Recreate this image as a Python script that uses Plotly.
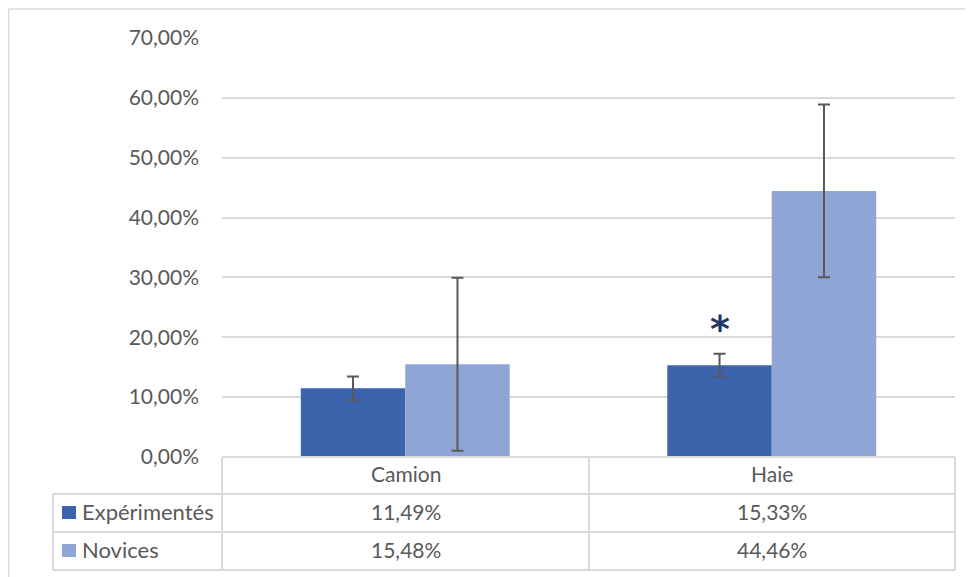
import plotly.graph_objects as go

categories = ["Camion", "Haie"]
series_names = ["Expérimentés", "Novices"]
experimentes = [0.1149, 0.1533]
novices = [0.1548, 0.4446]
err_experimentes = [0.0195, 0.019]
err_novices = [0.1445, 0.1445]
significance_exp = ["", "*"]
significance_y = [None, 0.224]
y_ticks = [0, 0.1, 0.2, 0.3, 0.4, 0.5, 0.6, 0.7]

colors = ["#3B64AD", "#8FA5D5"]
grid = "#D9D9D9"
txt = "#595959"
FONT = "Lato"
FS = 21

OFF = 8  # page body margin
W, H = 973 - OFF, 577 - OFF
# screen-space plot area: x 222..955, y 38..457
L, R, T, B = 222 - OFF, 973 - 955, 38 - OFF, 577 - 457
pw, ph = W - L - R, H - T - B


def px(x):
    return (x - OFF - L) / pw


def py(y):
    return (H - B - (y - OFF)) / ph


def fmt(v):
    return f"{v*100:.2f}%".replace(".", ",")


fig = go.Figure()
for name, vals, errs, col in [
    (series_names[0], experimentes, err_experimentes, colors[0]),
    (series_names[1], novices, err_novices, colors[1]),
]:
    fig.add_trace(go.Bar(
        x=categories, y=vals, name=name,
        marker=dict(color=col, line=dict(width=0)),
        error_y=dict(type="data", array=errs, visible=True,
                     color=txt, thickness=2, width=6),
        showlegend=False,
    ))

shapes = []
annotations = []

# outer chart border (left and top)
shapes.append(dict(type="line", xref="paper", yref="paper",
                   x0=px(8.5), x1=px(990), y0=py(9), y1=py(9),
                   line=dict(color=grid, width=1.5)))
shapes.append(dict(type="line", xref="paper", yref="paper",
                   x0=px(8.5), x1=px(8.5), y0=py(9), y1=py(600),
                   line=dict(color=grid, width=1.5)))

# data table
row_lines = [457, 494, 532, 570]
x_left, x_cat0, x_mid, x_right = 53, 222, 589, 955
shapes.append(dict(type="line", xref="paper", yref="paper",
                   x0=px(x_cat0), x1=px(x_right), y0=py(457), y1=py(457),
                   line=dict(color=grid, width=2)))
for yy in row_lines[1:]:
    shapes.append(dict(type="line", xref="paper", yref="paper",
                       x0=px(x_left), x1=px(x_right), y0=py(yy), y1=py(yy),
                       line=dict(color=grid, width=2)))
for xx in [x_cat0, x_mid, x_right]:
    shapes.append(dict(type="line", xref="paper", yref="paper",
                       x0=px(xx), x1=px(xx), y0=py(457), y1=py(570),
                       line=dict(color=grid, width=2)))
shapes.append(dict(type="line", xref="paper", yref="paper",
                   x0=px(x_left), x1=px(x_left), y0=py(494), y1=py(570),
                   line=dict(color=grid, width=2)))

col_centers = [(x_cat0 + x_mid) / 2, (x_mid + x_right) / 2]
row_centers = [(row_lines[i] + row_lines[i + 1]) / 2 - 2 for i in range(3)]

for c, cat in enumerate(categories):
    annotations.append(dict(xref="paper", yref="paper", x=px(col_centers[c]),
                            y=py(row_centers[0]), text=cat, showarrow=False,
                            xanchor="center", yanchor="middle",
                            font=dict(family=FONT, size=FS, color=txt)))
for r, (name, vals) in enumerate([(series_names[0], experimentes),
                                  (series_names[1], novices)]):
    yc = row_centers[r + 1]
    shapes.append(dict(type="rect", xref="paper", yref="paper",
                       x0=px(62), x1=px(76), y0=py(yc - 5), y1=py(yc + 8),
                       fillcolor=colors[r], line=dict(width=0)))
    annotations.append(dict(xref="paper", yref="paper", x=px(80), y=py(yc),
                            text=name, showarrow=False, xanchor="left",
                            yanchor="middle",
                            font=dict(family=FONT, size=FS + 1, color=txt)))
    for c, v in enumerate(vals):
        annotations.append(dict(xref="paper", yref="paper", x=px(col_centers[c]),
                                y=py(yc), text=fmt(v), showarrow=False,
                                xanchor="center", yanchor="middle",
                                font=dict(family=FONT, size=FS, color=txt)))

# significance marker over Expérimentés bars
bargap = 0.43
offset = (1 - bargap) / 4
for i, s in enumerate(significance_exp):
    if s:
        annotations.append(dict(xref="x", yref="y", x=i - offset,
                                y=significance_y[i], text=f"<b>{s}</b>",
                                showarrow=False, yanchor="middle", yshift=-6,
                                font=dict(family="DejaVu Sans", size=38,
                                          color="#203864")))

fig.update_layout(
    width=W, height=H,
    margin=dict(l=L, r=R, t=T, b=B, pad=0),
    paper_bgcolor="white", plot_bgcolor="white",
    barmode="group", bargap=bargap, bargroupgap=0,
    separators=", ",
    font=dict(family=FONT, size=FS, color=txt),
    xaxis=dict(range=[-0.5, 1.5], showticklabels=False, showgrid=False,
               zeroline=False, showline=False, fixedrange=True),
    yaxis=dict(range=[0, 0.7], tickvals=y_ticks, tickformat=".2%",
               showgrid=True, gridcolor=grid, gridwidth=1.5,
               zeroline=False, showline=False, ticks="",
               ticklabelstandoff=22,
               tickfont=dict(family=FONT, size=FS, color=txt)),
    shapes=shapes, annotations=annotations,
)

fig.write_html("out.html")
